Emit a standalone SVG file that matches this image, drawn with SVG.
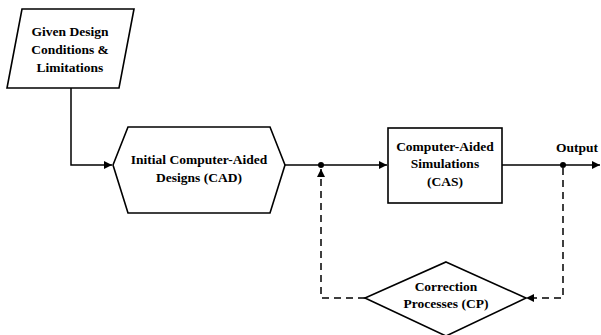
<svg xmlns="http://www.w3.org/2000/svg" width="601" height="335" viewBox="0 0 601 335">
  <style>
    .shape { fill: #fff; stroke: #000; stroke-width: 1.6; }
    .line { fill: none; stroke: #000; stroke-width: 1.5; }
    .dash { stroke-dasharray: 7 5; }
    text { font-family: "Liberation Serif", "Times New Roman", serif; font-weight: bold; font-size: 13.5px; fill: #000; text-anchor: middle; }
  </style>
  <defs>
    <marker id="arrow" viewBox="0 0 10 10" refX="10" refY="5" markerWidth="10" markerHeight="8" markerUnits="userSpaceOnUse" orient="auto">
      <path d="M0,0 L10,5 L0,10 Z" fill="#000"/>
    </marker>
  </defs>

  <g id="connectors">
    <!-- conditions to CAD -->
    <polyline class="line" points="71,88 71,165 112,165" marker-end="url(#arrow)"/>
    <!-- CAD to CAS -->
    <line class="line" x1="285" y1="165" x2="387" y2="165" marker-end="url(#arrow)"/>
    <!-- CAS to output -->
    <line class="line" x1="502" y1="165" x2="600" y2="165" marker-end="url(#arrow)"/>
    <circle cx="321" cy="165" r="3" fill="#000"/>
    <circle cx="563" cy="165" r="3" fill="#000"/>
    <!-- feedback loop -->
    <polyline class="line dash" points="563,168 563,298 526,298" marker-end="url(#arrow)"/>
    <polyline class="line dash" points="365,298 321,298 321,169" marker-end="url(#arrow)"/>
  </g>

  <g id="conditions">
    <polygon class="shape" points="22,9 134,9 119,88 7,88"/>
    <text x="70" y="36">Given Design</text>
    <text x="70" y="54">Conditions &amp;</text>
    <text x="70" y="72">Limitations</text>
  </g>

  <g id="cad">
    <polygon class="shape" points="113,165 128,127 270,127 285,165 270,213 128,213"/>
    <text x="199" y="164">Initial Computer-Aided</text>
    <text x="199" y="182">Designs (CAD)</text>
  </g>

  <g id="cas">
    <rect class="shape" x="388" y="128" width="114" height="75"/>
    <text x="445" y="151">Computer-Aided</text>
    <text x="445" y="168">Simulations</text>
    <text x="445" y="186">(CAS)</text>
  </g>

  <g id="output">
    <text x="577" y="152">Output</text>
  </g>

  <g id="cp">
    <polygon class="shape" points="446,262 526,298 446,336 365,298"/>
    <text x="446" y="291">Correction</text>
    <text x="446" y="308">Processes (CP)</text>
  </g>
</svg>
